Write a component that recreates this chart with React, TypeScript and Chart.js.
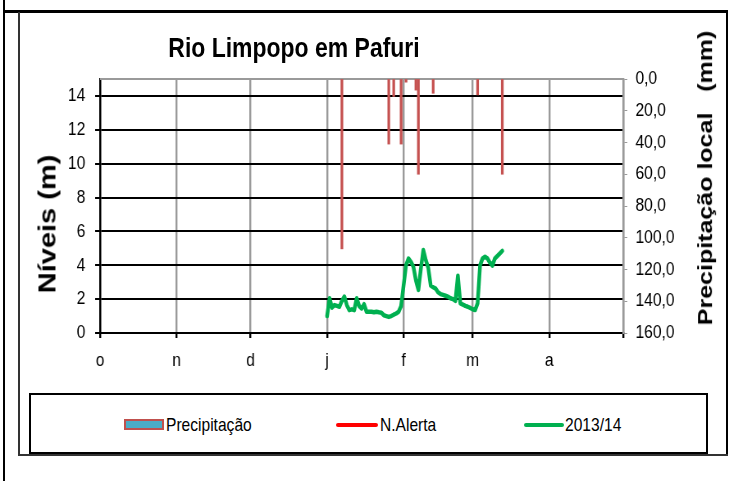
import React, { useEffect, useRef } from 'react';
import { Chart, registerables } from 'chart.js';

Chart.register(...registerables);

// ---- Data ----
const monthStarts = [0, 31, 61, 92, 123, 151, 182, 212];
const monthLabels = ['o', 'n', 'd', 'j', 'f', 'm', 'a', ''];
const levelTicks = [0, 2, 4, 6, 8, 10, 12, 14];
const precipTicks = [0, 20, 40, 60, 80, 100, 120, 140, 160];

const precipDays = [98, 117, 119, 122, 124, 128, 129, 135, 153, 163];
const precipMm = [107, 41, 11, 41, 2, 7, 60, 9, 10, 60];

const alertDays: number[] = [];
const alertLevels: number[] = [];

const levelStartDay = 92;
const level201314 = [
  1.0, 2.05, 1.5, 1.65, 1.6, 1.55, 1.9, 2.15, 1.65, 1.35,
  1.4, 1.35, 2.05, 1.6, 1.45, 1.7, 1.25, 1.25, 1.25, 1.22,
  1.25, 1.22, 1.2, 1.05, 1.0, 0.95, 1.0, 1.08, 1.15, 1.25,
  1.6, 2.8, 4.0, 4.4, 4.2, 3.9, 3.1, 2.55, 3.8, 4.9,
  4.3, 3.85, 2.8, 2.7, 2.62, 2.4, 2.3, 2.25, 2.2, 2.15,
  2.05, 2.0, 1.9, 3.38, 1.75, 1.68, 1.6, 1.55, 1.48, 1.4,
  1.36, 1.75, 4.0, 4.4, 4.5, 4.4, 4.15, 3.98, 4.4, 4.55,
  4.7, 4.85,
];

const FONT = '"Liberation Sans", Arial, sans-serif';
const SX = 0.82; // horizontal condensing of the original picture
const CW = Math.round(731 / SX);
const CH = 390;

const topBorder = {
  id: 'topBorder',
  beforeDatasetsDraw(chart: any) {
    const { ctx, chartArea } = chart;
    ctx.save();
    ctx.strokeStyle = '#9a9a9a';
    ctx.lineWidth = 2;
    ctx.beginPath();
    ctx.moveTo(chartArea.left, chartArea.top);
    ctx.lineTo(chartArea.right, chartArea.top);
    ctx.stroke();
    ctx.restore();
  },
};

export default function App() {
  const ref = useRef<HTMLCanvasElement>(null);

  useEffect(() => {
    if (!ref.current) return;
    const chart = new Chart(ref.current, {
      type: 'bar',
      data: {
        datasets: [
          {
            type: 'line',
            label: '2013/14',
            data: level201314.map((v, i) => ({ x: levelStartDay + i, y: v })),
            yAxisID: 'y',
            xAxisID: 'x',
            borderColor: '#00B050',
            backgroundColor: '#00B050',
            borderWidth: 4.5,
            pointRadius: 0,
            tension: 0,
            borderJoinStyle: 'round',
            borderCapStyle: 'round',
            order: 1,
          } as any,
          {
            type: 'line',
            label: 'N.Alerta',
            data: alertDays.map((d, i) => ({ x: d, y: alertLevels[i] })),
            yAxisID: 'y',
            xAxisID: 'x',
            borderColor: '#FF0000',
            borderWidth: 4,
            pointRadius: 0,
            order: 2,
          } as any,
          {
            type: 'bar',
            label: 'Precipitação',
            data: precipDays.map((d, i) => ({ x: d, y: precipMm[i] })),
            yAxisID: 'y2',
            xAxisID: 'x',
            backgroundColor: '#C55150',
            borderWidth: 0,
            barThickness: 2.6,
            order: 3,
          } as any,
        ],
      },
      options: {
        responsive: false,
        animation: false,
        layout: { padding: { top: 79, left: 0, right: 0, bottom: 0 } },
        plugins: {
          legend: { display: false },
          tooltip: { enabled: false },
          title: { display: false },
        },
        scales: {
          x: {
            type: 'linear',
            position: 'bottom',
            min: monthStarts[0],
            max: monthStarts[monthStarts.length - 1],
            offset: false,
            afterBuildTicks: (s: any) => {
              s.ticks = monthStarts.map((v) => ({ value: v }));
            },
            afterFit: (s: any) => {
              s.height = 57;
            },
            grid: {
              offset: false,
              color: '#9a9a9a',
              lineWidth: 2.4,
              drawTicks: true,
              tickLength: 5,
              tickColor: '#000',
            },
            border: { color: '#000', width: 2 },
            ticks: {
              autoSkip: false,
              maxRotation: 0,
              padding: 11,
              color: '#000',
              font: { family: FONT, size: 19 },
              callback: (_v: any, i: number) => monthLabels[i],
            },
          },
          y: {
            type: 'linear',
            position: 'left',
            min: 0,
            max: 15,
            afterBuildTicks: (s: any) => {
              s.ticks = levelTicks.map((v) => ({ value: v }));
            },
            afterFit: (s: any) => {
              s.width = Math.round(100 / SX);
            },
            grid: { color: '#000', lineWidth: 2, tickLength: 6 },
            border: { color: '#000', width: 2.4 },
            ticks: {
              padding: 12,
              color: '#000',
              font: { family: FONT, size: 19 },
            },
          },
          y2: {
            type: 'linear',
            position: 'right',
            min: 0,
            max: 160,
            reverse: true,
            afterBuildTicks: (s: any) => {
              s.ticks = precipTicks.map((v) => ({ value: v }));
            },
            afterFit: (s: any) => {
              s.width = CW - Math.round(623 / SX);
            },
            grid: { drawOnChartArea: false, color: '#9a9a9a', lineWidth: 1, tickLength: 5 },
            border: { color: '#9a9a9a', width: 2.4 },
            ticks: {
              padding: 10,
              color: '#000',
              font: { family: FONT, size: 19 },
              callback: (v: any) => Number(v).toFixed(1).replace('.', ','),
            },
          },
        },
      } as any,
      plugins: [topBorder],
    });
    return () => chart.destroy();
  }, []);

  const abs = (s: React.CSSProperties): React.CSSProperties => ({ position: 'absolute', ...s });
  const narrowText = (left: number, top: number, size: number, bold: boolean, centered: boolean): React.CSSProperties =>
    abs({
      left,
      top,
      transform: centered ? `translate(-50%, -50%) scaleX(${SX})` : `translateY(-50%) scaleX(${SX})`,
      transformOrigin: centered ? '50% 50%' : '0 50%',
      whiteSpace: 'pre',
      fontFamily: FONT,
      fontWeight: bold ? 'bold' : 'normal',
      fontSize: size,
      color: '#000',
    });

  return (
    <div style={{ position: 'absolute', left: 0, top: 0, width: 731, height: 481, background: '#fff', overflow: 'hidden' }}>
      {/* frame lines */}
      <div style={abs({ left: 3, top: 0, width: 2, height: 481, background: '#000' })} />
      <div style={abs({ left: 3, top: 10, width: 725, height: 3, background: '#000' })} />
      <div style={abs({ left: 726, top: 10, width: 2, height: 446, background: '#000' })} />
      <div style={abs({ left: 18, top: 12, width: 2, height: 444, background: '#333' })} />
      <div style={abs({ left: 18, top: 454, width: 710, height: 2, background: '#333' })} />

      <div style={abs({ left: 0, top: 0, width: CW, height: CH, transform: `scaleX(${SX})`, transformOrigin: '0 0' })}>
        <canvas ref={ref} width={CW} height={CH} style={{ display: 'block', width: CW, height: CH }} />
      </div>

      {/* titles */}
      <div style={narrowText(294, 48, 28, true, true)}>Rio Limpopo em Pafuri</div>
      <div style={abs({ left: 48, top: 224, transform: `translate(-50%, -50%) scaleX(${SX}) rotate(-90deg)`, whiteSpace: 'nowrap', fontFamily: FONT, fontWeight: 'bold', fontSize: 29, color: '#000' })}>
        Níveis (m)
      </div>
      <div style={abs({ left: 705, top: 178, transform: `translate(-50%, -50%) scaleX(${SX}) rotate(-90deg)`, whiteSpace: 'pre', fontFamily: FONT, fontWeight: 'bold', fontSize: 25, color: '#000' })}>
        {'Precipitação local   (mm)'}
      </div>

      {/* legend */}
      <div style={abs({ left: 29, top: 393, width: 679, height: 61, border: '2px solid #000', boxSizing: 'border-box' })} />
      <div style={abs({ left: 124, top: 419, width: 40, height: 11, background: '#4BACC6', border: '2px solid #C0504D', boxSizing: 'border-box' })} />
      <div style={narrowText(166, 425, 19, false, false)}>Precipitação</div>
      <div style={abs({ left: 336, top: 423, width: 42, height: 4, background: '#FF0000', borderRadius: 2 })} />
      <div style={narrowText(380, 425, 19, false, false)}>N.Alerta</div>
      <div style={abs({ left: 524, top: 423, width: 40, height: 4, background: '#00B050', borderRadius: 2 })} />
      <div style={narrowText(565, 425, 19, false, false)}>2013/14</div>
    </div>
  );
}
